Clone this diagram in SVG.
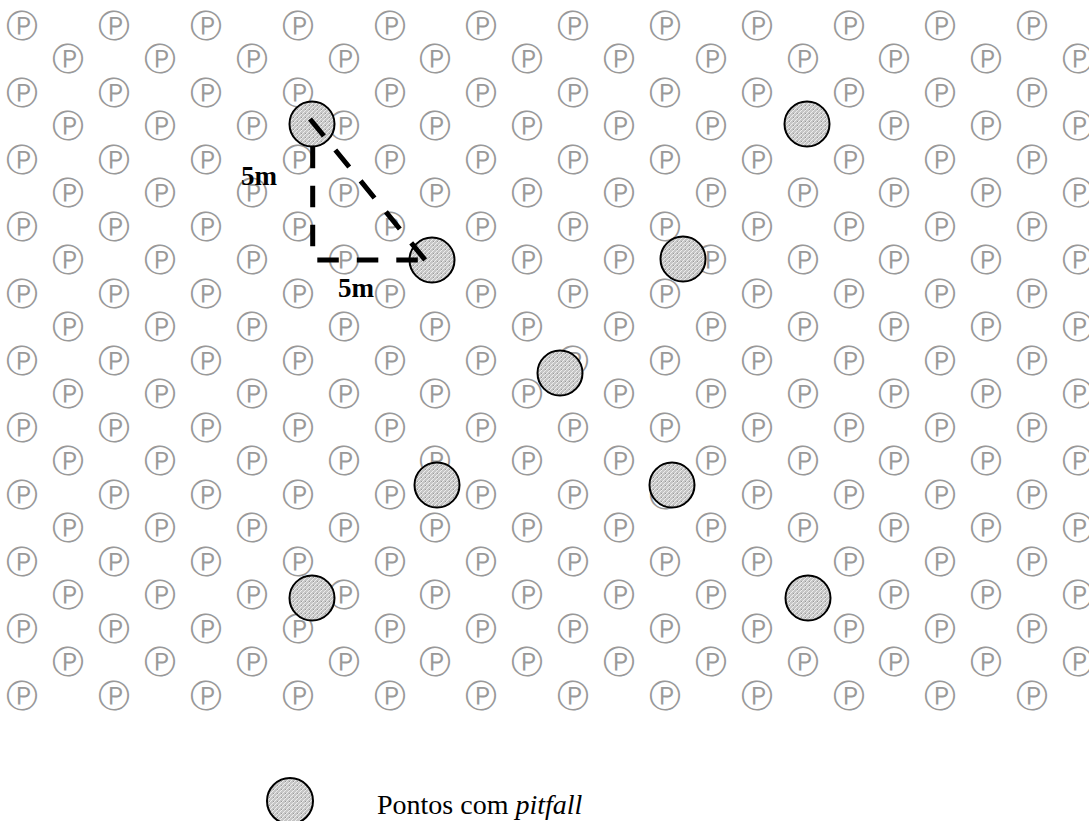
<svg xmlns="http://www.w3.org/2000/svg" width="1089" height="821" viewBox="0 0 1089 821">
<style>
.p{font-family:"DejaVu Sans",sans-serif;font-size:32px;fill:#999;text-anchor:middle}
.pit{fill:url(#hatch);stroke:#000;stroke-width:2}
.dash{stroke:#000;stroke-width:5;fill:none}
.lbl{font-family:"Liberation Serif",serif;font-size:27px;font-weight:bold;fill:#000}
.leg{font-family:"Liberation Serif",serif;font-size:28px;fill:#000}
</style>
<defs>
<pattern id="hatch" patternUnits="userSpaceOnUse" width="4" height="4">
<rect width="4" height="4" fill="#c6c6c6"/>
<path d="M-1,1 L1,-1 M0,4 L4,0 M3,5 L5,3" stroke="#ececec" stroke-width="1"/>
<rect x="1" y="1" width="0.8" height="0.8" fill="#808080"/>
</pattern>
</defs>
<g id="grid">
<text class="p" y="36.6" x="22.3 114.1 205.9 297.7 389.5 481.3 573.1 664.9 756.7 848.5 940.3 1032.1">ⓅⓅⓅⓅⓅⓅⓅⓅⓅⓅⓅⓅ</text>
<text class="p" y="70.1" x="68.2 160 251.8 343.6 435.4 527.2 619 710.8 802.6 894.4 986.2 1078">ⓅⓅⓅⓅⓅⓅⓅⓅⓅⓅⓅⓅ</text>
<text class="p" y="103.6" x="22.3 114.1 205.9 297.7 389.5 481.3 573.1 664.9 756.7 848.5 940.3 1032.1">ⓅⓅⓅⓅⓅⓅⓅⓅⓅⓅⓅⓅ</text>
<text class="p" y="137.1" x="68.2 160 251.8 343.6 435.4 527.2 619 710.8 802.6 894.4 986.2 1078">ⓅⓅⓅⓅⓅⓅⓅⓅⓅⓅⓅⓅ</text>
<text class="p" y="170.6" x="22.3 114.1 205.9 297.7 389.5 481.3 573.1 664.9 756.7 848.5 940.3 1032.1">ⓅⓅⓅⓅⓅⓅⓅⓅⓅⓅⓅⓅ</text>
<text class="p" y="204.1" x="68.2 160 251.8 343.6 435.4 527.2 619 710.8 802.6 894.4 986.2 1078">ⓅⓅⓅⓅⓅⓅⓅⓅⓅⓅⓅⓅ</text>
<text class="p" y="237.6" x="22.3 114.1 205.9 297.7 389.5 481.3 573.1 664.9 756.7 848.5 940.3 1032.1">ⓅⓅⓅⓅⓅⓅⓅⓅⓅⓅⓅⓅ</text>
<text class="p" y="271.1" x="68.2 160 251.8 343.6 435.4 527.2 619 710.8 802.6 894.4 986.2 1078">ⓅⓅⓅⓅⓅⓅⓅⓅⓅⓅⓅⓅ</text>
<text class="p" y="304.6" x="22.3 114.1 205.9 297.7 389.5 481.3 573.1 664.9 756.7 848.5 940.3 1032.1">ⓅⓅⓅⓅⓅⓅⓅⓅⓅⓅⓅⓅ</text>
<text class="p" y="338.1" x="68.2 160 251.8 343.6 435.4 527.2 619 710.8 802.6 894.4 986.2 1078">ⓅⓅⓅⓅⓅⓅⓅⓅⓅⓅⓅⓅ</text>
<text class="p" y="371.6" x="22.3 114.1 205.9 297.7 389.5 481.3 573.1 664.9 756.7 848.5 940.3 1032.1">ⓅⓅⓅⓅⓅⓅⓅⓅⓅⓅⓅⓅ</text>
<text class="p" y="405.1" x="68.2 160 251.8 343.6 435.4 527.2 619 710.8 802.6 894.4 986.2 1078">ⓅⓅⓅⓅⓅⓅⓅⓅⓅⓅⓅⓅ</text>
<text class="p" y="438.6" x="22.3 114.1 205.9 297.7 389.5 481.3 573.1 664.9 756.7 848.5 940.3 1032.1">ⓅⓅⓅⓅⓅⓅⓅⓅⓅⓅⓅⓅ</text>
<text class="p" y="472.1" x="68.2 160 251.8 343.6 435.4 527.2 619 710.8 802.6 894.4 986.2 1078">ⓅⓅⓅⓅⓅⓅⓅⓅⓅⓅⓅⓅ</text>
<text class="p" y="505.6" x="22.3 114.1 205.9 297.7 389.5 481.3 573.1 664.9 756.7 848.5 940.3 1032.1">ⓅⓅⓅⓅⓅⓅⓅⓅⓅⓅⓅⓅ</text>
<text class="p" y="539.1" x="68.2 160 251.8 343.6 435.4 527.2 619 710.8 802.6 894.4 986.2 1078">ⓅⓅⓅⓅⓅⓅⓅⓅⓅⓅⓅⓅ</text>
<text class="p" y="572.6" x="22.3 114.1 205.9 297.7 389.5 481.3 573.1 664.9 756.7 848.5 940.3 1032.1">ⓅⓅⓅⓅⓅⓅⓅⓅⓅⓅⓅⓅ</text>
<text class="p" y="606.1" x="68.2 160 251.8 343.6 435.4 527.2 619 710.8 802.6 894.4 986.2 1078">ⓅⓅⓅⓅⓅⓅⓅⓅⓅⓅⓅⓅ</text>
<text class="p" y="639.6" x="22.3 114.1 205.9 297.7 389.5 481.3 573.1 664.9 756.7 848.5 940.3 1032.1">ⓅⓅⓅⓅⓅⓅⓅⓅⓅⓅⓅⓅ</text>
<text class="p" y="673.1" x="68.2 160 251.8 343.6 435.4 527.2 619 710.8 802.6 894.4 986.2 1078">ⓅⓅⓅⓅⓅⓅⓅⓅⓅⓅⓅⓅ</text>
<text class="p" y="706.6" x="22.3 114.1 205.9 297.7 389.5 481.3 573.1 664.9 756.7 848.5 940.3 1032.1">ⓅⓅⓅⓅⓅⓅⓅⓅⓅⓅⓅⓅ</text>
</g>
<g id="pitfall-1"><circle class="pit" cx="312" cy="124" r="22.5"/></g>
<g id="pitfall-2"><circle class="pit" cx="432" cy="260" r="22.5"/></g>
<g id="pitfall-3"><circle class="pit" cx="807" cy="124" r="22.5"/></g>
<g id="pitfall-4"><circle class="pit" cx="683" cy="259" r="22.5"/></g>
<g id="pitfall-5"><circle class="pit" cx="560" cy="373" r="22.5"/></g>
<g id="pitfall-6"><circle class="pit" cx="437" cy="485" r="22.5"/></g>
<g id="pitfall-7"><circle class="pit" cx="672" cy="485" r="22.5"/></g>
<g id="pitfall-8"><circle class="pit" cx="312" cy="598" r="22.5"/></g>
<g id="pitfall-9"><circle class="pit" cx="808" cy="598" r="22.5"/></g>
<g id="connectors">
<line class="dash" x1="310" y1="119" x2="426" y2="261" stroke-dasharray="22 18"/>
<line class="dash" x1="312.7" y1="146.7" x2="312.7" y2="246.7" stroke-dasharray="21.5 17.5"/>
<line class="dash" x1="317.3" y1="260" x2="418.3" y2="260" stroke-dasharray="21.5 18"/>
</g>
<g id="labels">
<text class="lbl" x="241" y="185">5m</text>
<text class="lbl" x="338" y="297">5m</text>
</g>
<g id="legend">
<circle class="pit" cx="290" cy="801" r="23"/>
<text class="leg" x="377" y="814">Pontos com <tspan font-style="italic">pitfall</tspan></text>
</g>
</svg>
